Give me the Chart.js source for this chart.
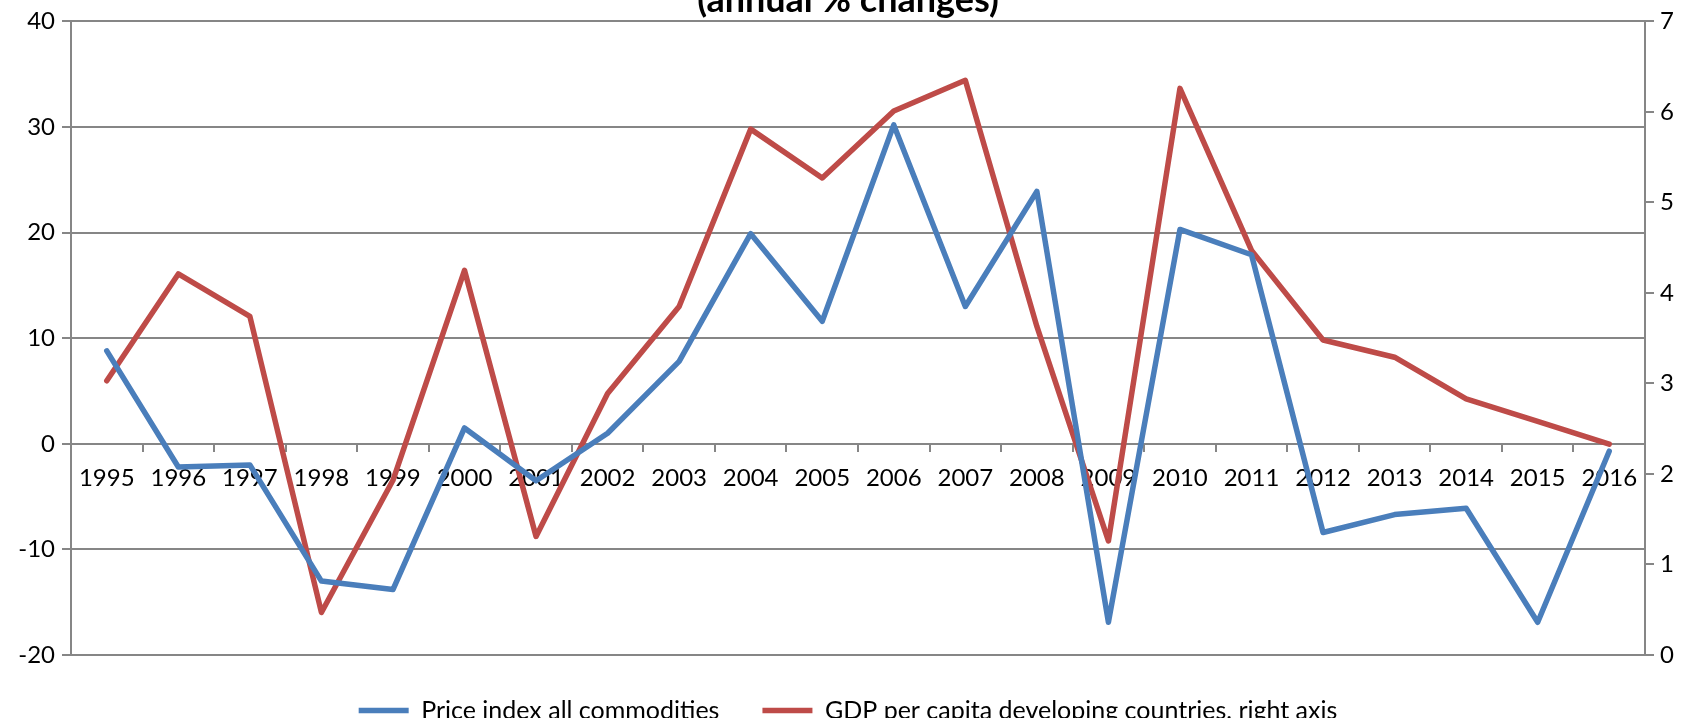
<!DOCTYPE html>
<html>
<head>
<meta charset="utf-8">
<script src="https://cdn.jsdelivr.net/npm/chart.js@4/dist/chart.umd.min.js"></script>
<style>
  html, body { margin: 0; padding: 0; background: #fff; }
  #wrap { width: 1696px; height: 718px; }
</style>
</head>
<body>
<div id="wrap"><canvas id="c" width="1696" height="718"></canvas></div>
<script>
// Years on the category axis
const years = ['1995','1996','1997','1998','1999','2000','2001','2002','2003','2004','2005',
               '2006','2007','2008','2009','2010','2011','2012','2013','2014','2015','2016'];

// Annual % change of the all-commodities price index (left axis)
const priceIndex = [8.8, -2.2, -2.0, -13.0, -13.8, 1.5, -3.5, 1.0, 7.8, 19.9, 11.6,
                    30.2, 13.0, 23.9, -16.9, 20.3, 17.9, -8.4, -6.7, -6.1, -16.9, -0.7];

// GDP per capita growth in developing countries, % (right axis)
const gdpPerCapita = [3.03, 4.21, 3.74, 0.47, 1.93, 4.25, 1.31, 2.89, 3.85, 5.81, 5.27,
                      6.01, 6.35, 3.63, 1.26, 6.26, 4.47, 3.48, 3.29, 2.83, 2.58, 2.33];

// Axis ranges
const leftRange = { min: -20, max: 40, step: 10 };
const rightRange = { min: 0, max: 7, step: 1 };

const seriesNames = ['Price index all commodities', 'GDP per capita developing countries, right axis'];
const titleText = '(annual % changes)';

const FONT = 'Lato';
const FONT_SIZE = 24;
const AXIS_GREY = '#868686';
const BLUE = '#4a7ebb';
const RED = '#be4b48';

new Chart(document.getElementById('c'), {
  type: 'line',
  data: {
    labels: years,
    datasets: [
      {
        label: seriesNames[0],
        data: priceIndex,
        yAxisID: 'y',
        borderColor: BLUE,
        backgroundColor: BLUE,
        borderWidth: 5.5,
        borderCapStyle: 'round',
        borderJoinStyle: 'round',
        pointRadius: 0,
        tension: 0
      },
      {
        label: seriesNames[1],
        data: gdpPerCapita,
        yAxisID: 'y2',
        borderColor: RED,
        backgroundColor: RED,
        borderWidth: 5.5,
        borderCapStyle: 'round',
        borderJoinStyle: 'round',
        pointRadius: 0,
        tension: 0
      }
    ]
  },
  options: {
    responsive: false,
    animation: false,
    devicePixelRatio: 1,
    layout: { padding: { left: 0, right: 0, top: -4, bottom: -15 } },
    plugins: {
      tooltip: { enabled: false },
      title: {
        display: true,
        text: titleText,
        color: '#000',
        font: { family: FONT, size: 36, weight: 'bold' },
        padding: { top: -28, bottom: -1 }
      },
      legend: {
        position: 'bottom',
        labels: {
          color: '#000',
          font: { family: FONT, size: 25 },
          usePointStyle: true,
          pointStyle: 'line',
          pointStyleWidth: 50,
          padding: 43
        }
      }
    },
    scales: {
      x: {
        type: 'category',
        position: { y: 0 },
        offset: true,
        grid: {
          display: true,
          offset: true,
          drawOnChartArea: false,
          drawTicks: true,
          tickLength: 7,
          color: AXIS_GREY,
          lineWidth: 2
        },
        border: { display: true, color: AXIS_GREY, width: 2 },
        ticks: {
          color: '#000',
          font: { family: FONT, size: FONT_SIZE },
          padding: 13,
          maxRotation: 0,
          autoSkip: false
        }
      },
      y: {
        position: 'left',
        min: leftRange.min,
        max: leftRange.max,
        afterFit: s => { s.width = 71; },
        grid: {
          color: AXIS_GREY,
          lineWidth: 2,
          tickLength: 9
        },
        border: { display: true, color: AXIS_GREY, width: 2 },
        ticks: {
          stepSize: leftRange.step,
          color: '#000',
          font: { family: FONT, size: FONT_SIZE },
          padding: 7
        }
      },
      y2: {
        position: 'right',
        min: rightRange.min,
        max: rightRange.max,
        afterFit: s => { s.width = 51; },
        grid: {
          drawOnChartArea: false,
          color: AXIS_GREY,
          lineWidth: 2,
          tickLength: 9
        },
        border: { display: true, color: AXIS_GREY, width: 2 },
        ticks: {
          stepSize: rightRange.step,
          color: '#000',
          font: { family: FONT, size: FONT_SIZE },
          padding: 6
        }
      }
    }
  }
});
</script>
</body>
</html>
